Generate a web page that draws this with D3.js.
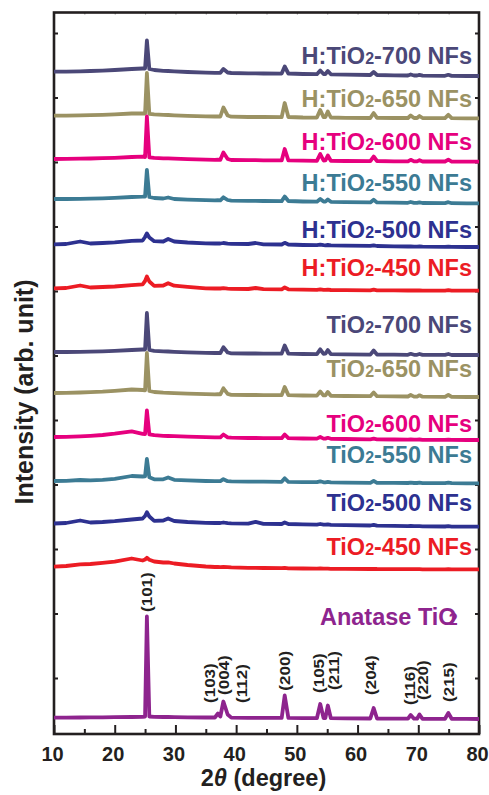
<!DOCTYPE html>
<html><head><meta charset="utf-8">
<script src="https://cdn.jsdelivr.net/npm/d3@7"></script>
<style>
html,body{margin:0;padding:0;background:#fff;}
svg{display:block;font-family:"Liberation Sans",Arial,Helvetica,sans-serif;}
</style>
</head><body>
<svg id="chart" width="489" height="795"></svg>
<script>
// ---------------- DATA ----------------
const twoTheta = [10,12,14.3,16,18,20,22.8,24.6,25.0,25.3,25.7,26.5,28,28.8,29.8,32,35,36.5,37.0,37.4,37.9,38.6,39.2,42,43.2,44.5,47.5,48.0,48.6,51,53.3,53.85,54.4,54.7,55.1,55.6,58,62.1,62.65,63.2,66,68.3,68.75,69.3,69.8,70.2,70.7,74.4,74.95,75.5,78,80];

const seriesNames = ["H:TiO2-700 NFs","H:TiO2-650 NFs","H:TiO2-600 NFs","H:TiO2-550 NFs","H:TiO2-500 NFs","H:TiO2-450 NFs",
  "TiO2-700 NFs","TiO2-650 NFs","TiO2-600 NFs","TiO2-550 NFs","TiO2-500 NFs","TiO2-450 NFs","Anatase TiO2"];
const seriesColors = ["#4b4878","#9b9263","#e6007e","#3c7b94","#2d3190","#ec1c24",
  "#4b4878","#9b9263","#e6007e","#3c7b94","#2d3190","#ec1c24","#8e248e"];

const h700 = [43,44,47,50,54,60,70,75,75,355,70,60,52,50,47,40,34,32,32,32,70,35,30,27,26,25,24,95,25,20,18,55,20,20,50,17,13,10,40,10,7,5,15,5,5,12,4,2,12,1,0,0];
const h650 = [26,27,29,31,35,40,48,50,48,453,45,40,35,33,30,25,20,18,20,18,108,28,16,13,13,13,11,153,13,8,7,83,11,13,68,8,5,3,53,5,3,3,28,3,3,23,3,1,35,1,0,0];
const h600 = [27,28,30,32,35,39,47,50,47,452,44,39,34,33,30,25,21,19,21,19,92,27,17,15,15,14,13,127,14,10,9,77,12,13,62,9,7,5,52,7,4,3,19,3,3,15,2,2,20,1,0,0];
const h550 = [43,43,45,47,50,55,63,66,68,333,63,53,48,58,43,37,32,30,31,30,60,33,27,24,24,23,22,68,23,18,16,43,17,17,38,15,12,9,35,9,6,5,13,4,4,10,3,2,11,1,0,0];
const h500 = [27,30,55,35,40,47,62,65,100,135,95,58,55,80,55,45,37,35,35,35,40,34,32,30,40,27,25,42,25,20,18,24,18,17,20,16,14,11,17,10,7,5,7,4,4,5,3,2,4,1,0,0];
const h450 = [24,27,52,32,37,42,55,64,97,142,92,49,52,75,50,39,24,22,22,22,25,21,19,17,27,15,14,32,14,10,9,14,8,8,11,7,6,4,11,4,3,2,4,2,2,4,1,1,5,0,0,0];
const t700 = [30,30,32,34,37,42,50,55,55,420,50,42,37,35,32,27,22,20,22,20,77,25,17,15,15,14,13,95,14,10,9,57,12,13,50,8,6,4,45,5,3,2,12,2,2,10,1,1,10,0,0,0];
const t650 = [40,42,45,48,53,62,75,70,67,440,60,50,43,41,38,33,28,26,28,26,87,32,22,20,20,19,18,100,19,15,14,55,16,17,50,12,10,8,45,8,6,5,20,4,4,17,3,2,22,1,0,0];
const t600 = [30,32,37,42,50,63,87,62,60,295,57,48,42,40,38,33,28,26,27,26,55,27,23,20,20,19,18,55,18,15,14,30,14,14,22,12,10,7,14,7,5,4,6,3,3,5,2,2,4,1,0,0];
const t550 = [23,25,33,30,35,45,73,68,70,243,60,40,40,58,35,30,23,21,21,21,41,21,19,17,17,16,15,50,15,12,11,20,10,10,15,9,7,5,25,5,4,3,7,3,3,6,2,2,7,1,0,0];
const t500 = [32,37,62,42,47,55,72,82,107,144,102,59,62,82,57,47,39,37,37,37,42,35,33,31,49,29,27,42,27,23,21,27,20,20,23,18,16,12,19,11,8,6,8,5,5,6,4,2,5,1,0,0];
const t450 = [26,33,50,53,65,76,108,88,98,115,96,78,68,70,58,43,28,23,23,22,23,21,19,15,14,13,11,15,10,8,7,8,6,6,7,5,4,3,5,3,2,1,2,1,1,1,0,0,1,0,0,0];
const anatase = [13,14,15,16,17,18,20,22,25,1025,25,22,20,20,19,17,15,15,55,25,175,45,14,12,12,11,11,235,11,9,8,150,10,10,135,8,6,5,110,5,4,3,40,3,3,45,2,2,60,2,1,0];

const seriesValues = [h700,h650,h600,h550,h500,h450,t700,t650,t600,t550,t500,t450,anatase];
const seriesOffsets = [6580,6157,5723,5307,4870,4433,3790,3370,2940,2507,2073,1647,150];
const labelY = [6700,6270,5840,5433,4963,4580,4010,3573,3023,2707,2230,1790,1090];
const labelX = [78.85,78.85,78.85,78.85,78.85,78.85,78.85,78.85,78.85,78.85,78.85,78.85,53.8];

const hklLabels = ["(101)","(103)","(004)","(112)","(200)","(105)","(211)","(204)","(116)","(220)","(215)"];
const hklX = [25.32,35.7,37.92,40.97,48.05,53.53,56.0,62.2,68.5,70.78,74.95];
const hklY = [1220,310,390,310,433,410,440,390,290,340,320];

const xTicks = [10,20,30,40,50,60,70,80];
const xMinorTicks = [15,25,35,45,55,65,75];
const yTicks = [560,1205,1850,2495,3140,3785,4430,5075,5720,6365,7010];

// ---------------- CHART ----------------
const svg = d3.select("#chart");
const m = {left:54, right:479, top:12.5, bottom:734};
const x = d3.scaleLinear().domain([10,80]).range([m.left,m.right]);
const y = d3.scaleLinear().domain([0,7215]).range([m.bottom,m.top]);
const ink = "#231f20";

function styleAxis(g){
  g.select(".domain").remove();
  g.selectAll(".tick line").attr("stroke",ink).attr("stroke-width",2);
}

svg.append("g").attr("transform",`translate(0,${m.bottom})`)
  .call(d3.axisBottom(x).tickValues(xTicks).tickSize(-9).tickPadding(13).tickFormat(d3.format("d")))
  .call(styleAxis)
  .call(g=>g.selectAll("text").attr("fill",ink).attr("dx",-2).style("font-size","20px").style("font-weight","bold")
     .style("font-family",'"Liberation Sans",Arial,sans-serif'));
svg.append("g").attr("transform",`translate(0,${m.bottom})`)
  .call(d3.axisBottom(x).tickValues(xMinorTicks).tickSize(-5).tickFormat(""))
  .call(styleAxis);
svg.append("g").attr("transform",`translate(0,${m.top})`)
  .call(d3.axisTop(x).tickValues(xTicks.concat(xMinorTicks)).tickSize(-2).tickFormat(""))
  .call(styleAxis).call(g=>g.selectAll(".tick line").attr("stroke","#888").attr("stroke-width",1));
svg.append("g").attr("transform",`translate(${m.left},0)`)
  .call(d3.axisLeft(y).tickValues(yTicks).tickSize(-4).tickFormat(""))
  .call(styleAxis);
svg.append("g").attr("transform",`translate(${m.right},0)`)
  .call(d3.axisRight(y).tickValues(yTicks).tickSize(-4).tickFormat(""))
  .call(styleAxis);

svg.append("rect").attr("x",m.left).attr("y",m.top)
  .attr("width",m.right-m.left).attr("height",m.bottom-m.top)
  .attr("fill","none").attr("stroke",ink).attr("stroke-width",2.6);

// traces
seriesValues.forEach((vals,si)=>{
  const off = seriesOffsets[si];
  const line = d3.line().x((d,i)=>x(twoTheta[i])).y(d=>y(d+off));
  svg.append("path").datum(vals).attr("d",line)
    .attr("fill","none").attr("stroke",seriesColors[si])
    .attr("stroke-width",3.8).attr("stroke-linejoin","round").attr("stroke-linecap","butt");
});

// series labels
seriesNames.forEach((name,si)=>{
  const k = name.indexOf("TiO2")+3;
  const isAnatase = si===seriesNames.length-1;
  const t = svg.append("text").attr("x",x(labelX[si])).attr("y",y(labelY[si]))
    .attr("text-anchor",isAnatase?"start":"end").attr("fill",seriesColors[si])
    .style("font-size","23.5px").style("font-weight","bold");
  t.append("tspan").text(name.slice(0,k));
  t.append("tspan").text(name.slice(k,k+1)).style("font-size","16px").attr("dx",isAnatase?-8:0);
  t.append("tspan").text(name.slice(k+1));
});

// hkl labels
hklLabels.forEach((lab,i)=>{
  svg.append("text")
    .attr("transform",`translate(${x(hklX[i])},${y(hklY[i])}) rotate(-90) scale(1.1,1)`)
    .attr("dy","0.35em").attr("text-anchor","start").attr("fill",ink)
    .style("font-size","15.5px").style("font-weight","bold").text(lab);
});

// axis titles
svg.append("text").attr("transform","translate(33,392) rotate(-90)")
  .attr("text-anchor","middle").attr("fill",ink)
  .style("font-size","25px").style("font-weight","bold").text("Intensity (arb. unit)");
const xt = svg.append("text").attr("x",(m.left+m.right)/2-3).attr("y",786)
  .attr("text-anchor","middle").attr("fill",ink).style("font-size","23.5px").style("font-weight","bold");
xt.append("tspan").text("2");
xt.append("tspan").text("θ").style("font-style","italic");
xt.append("tspan").text(" (degree)");
</script>
</body></html>
